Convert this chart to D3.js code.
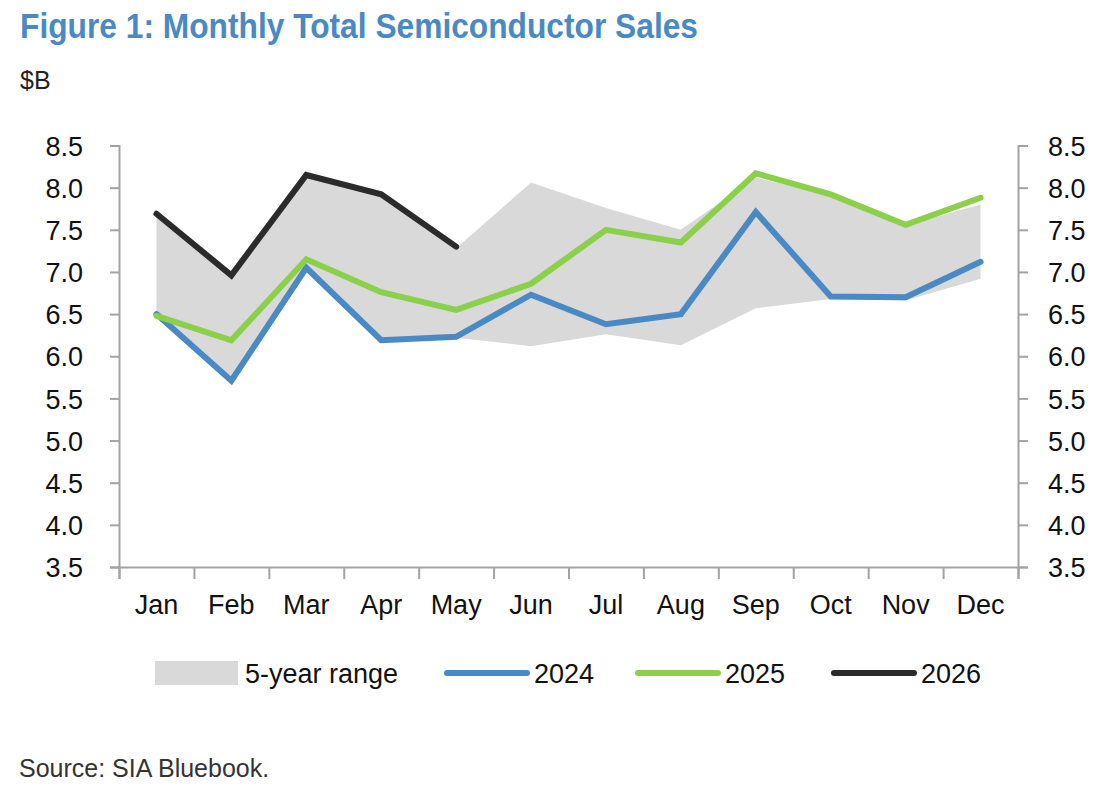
<!DOCTYPE html>
<html>
<head>
<meta charset="utf-8">
<script src="https://cdn.jsdelivr.net/npm/d3@7"></script>
<style>
  body { margin: 0; background: #fff; }
  svg { display: block; font-family: "Liberation Sans", Arial, sans-serif; }
</style>
</head>
<body>
<div id="chart"></div>
<script>
// data ($B)
var months = ["Jan", "Feb", "Mar", "Apr", "May", "Jun", "Jul", "Aug", "Sep", "Oct", "Nov", "Dec"];
var rangeLow  = [6.50, 5.75, 7.05, 6.20, 6.22, 6.12, 6.26, 6.13, 6.57, 6.68, 6.66, 6.92];
var rangeHigh = [7.66, 6.94, 8.12, 7.90, 7.28, 8.06, 7.76, 7.50, 8.12, 7.90, 7.55, 7.80];
var s2024 = [6.50, 5.71, 7.05, 6.19, 6.23, 6.73, 6.38, 6.50, 7.71, 6.71, 6.70, 7.12];
var s2025 = [6.48, 6.19, 7.15, 6.76, 6.55, 6.86, 7.50, 7.35, 8.17, 7.92, 7.56, 7.88];
var s2026 = [7.69, 6.96, 8.15, 7.92, 7.30];
var yTicks = [3.5, 4.0, 4.5, 5.0, 5.5, 6.0, 6.5, 7.0, 7.5, 8.0, 8.5];

var W = 1111, H = 793;
var pLeft = 119, pRight = 1018, pTop = 145.5, pBottom = 567;

var svg = d3.select("#chart").append("svg")
    .attr("width", W)
    .attr("height", H);

var x = d3.scaleBand().domain(months).range([pLeft, pRight]);
var xb = d3.scaleLinear().domain([0, 12]).range([pLeft, pRight]);
var y = d3.scaleLinear().domain([3.5, 8.5]).range([pBottom, pTop]);
var cx = function(i) { return x(months[i]) + x.bandwidth() / 2; };

// title
svg.append("text")
    .attr("x", 20).attr("y", 38)
    .attr("textLength", 678).attr("lengthAdjust", "spacingAndGlyphs")
    .style("font-family", "'Liberation Sans Narrow', 'Arial Narrow', 'Liberation Sans', Arial, sans-serif")
    .style("font-size", "35px").style("font-weight", "bold")
    .style("fill", "#4a89c3")
    .text("Figure 1: Monthly Total Semiconductor Sales");

svg.append("text")
    .attr("x", 20).attr("y", 89)
    .style("font-size", "25px").style("fill", "#222")
    .text("$B");

// 5-year range band
svg.append("path")
    .datum(months.map(function(m, i) { return i; }))
    .attr("fill", "#d9d9d9")
    .attr("d", d3.area()
        .x(function(i) { return cx(i); })
        .y0(function(i) { return y(rangeLow[i]); })
        .y1(function(i) { return y(rangeHigh[i]); }));

// axes
var axisColor = "#a3a3a3";
function styleAxis(g) {
    g.selectAll("path, line").attr("stroke", axisColor).attr("stroke-width", 2);
    g.selectAll("text").style("font-size", "27px").style("fill", "#111")
        .style("font-family", "'Liberation Sans', Arial, sans-serif");
}

svg.append("g")
    .attr("transform", "translate(" + pLeft + ",0)")
    .call(d3.axisLeft(y).tickValues(yTicks).tickFormat(d3.format(".1f")).tickSizeOuter(0).tickSize(9).tickPadding(27))
    .call(styleAxis)
    .selectAll("text").attr("dy", "0.36em");

svg.append("g")
    .attr("transform", "translate(" + pRight + ",0)")
    .call(d3.axisRight(y).tickValues(yTicks).tickFormat(d3.format(".1f")).tickSizeOuter(0).tickSize(10).tickPadding(20))
    .call(styleAxis)
    .selectAll("text").attr("dy", "0.36em");

svg.append("g")
    .attr("transform", "translate(0," + pBottom + ")")
    .call(d3.axisBottom(xb).tickValues(d3.range(13)).tickFormat("").tickSizeOuter(0).tickSize(12))
    .call(styleAxis);

svg.append("g")
    .attr("transform", "translate(0," + pBottom + ")")
    .call(d3.axisBottom(x).tickSize(0).tickPadding(28))
    .call(styleAxis)
    .call(function(g) { g.select(".domain").remove(); });

// lines
var line = d3.line()
    .x(function(d, i) { return cx(i); })
    .y(function(d) { return y(d); });

var series = [
    { name: "2024", values: s2024, color: "#4a89c3" },
    { name: "2025", values: s2025, color: "#8ccf4a" },
    { name: "2026", values: s2026, color: "#2b2b2b" }
];

series.forEach(function(s) {
    svg.append("path")
        .datum(s.values)
        .attr("fill", "none")
        .attr("stroke", s.color)
        .attr("stroke-width", 6)
        .attr("stroke-linejoin", "miter")
        .attr("stroke-linecap", "round")
        .attr("d", line);
});

// legend
var ly = 673;
svg.append("rect")
    .attr("x", 155).attr("y", ly - 12).attr("width", 83).attr("height", 24)
    .attr("fill", "#d9d9d9");
svg.append("text")
    .attr("x", 245).attr("y", ly).attr("dy", "0.36em")
    .style("font-size", "27px").style("fill", "#111")
    .text("5-year range");

var legX = [447, 638, 834];
series.forEach(function(s, i) {
    svg.append("line")
        .attr("x1", legX[i]).attr("x2", legX[i] + 80)
        .attr("y1", ly).attr("y2", ly)
        .attr("stroke", s.color).attr("stroke-width", 6)
        .attr("stroke-linecap", "round");
    svg.append("text")
        .attr("x", legX[i] + 87).attr("y", ly).attr("dy", "0.36em")
        .style("font-size", "27px").style("fill", "#111")
        .text(s.name);
});

// source
svg.append("text")
    .attr("x", 19).attr("y", 777)
    .style("font-size", "25px").style("fill", "#333")
    .text("Source: SIA Bluebook.");
</script>
</body>
</html>
